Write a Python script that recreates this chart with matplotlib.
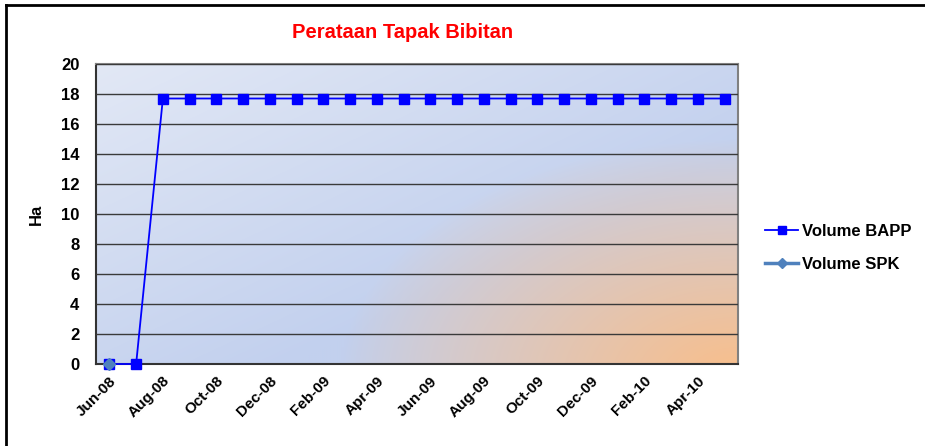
import numpy as np
import matplotlib.pyplot as plt
from matplotlib.lines import Line2D

plt.rcParams['font.family'] = ['Liberation Sans', 'DejaVu Sans']

months = ['Jun-08', 'Jul-08', 'Aug-08', 'Sep-08', 'Oct-08', 'Nov-08', 'Dec-08', 'Jan-09',
          'Feb-09', 'Mar-09', 'Apr-09', 'May-09', 'Jun-09', 'Jul-09', 'Aug-09', 'Sep-09',
          'Oct-09', 'Nov-09', 'Dec-09', 'Jan-10', 'Feb-10', 'Mar-10', 'Apr-10', 'May-10']
volume_bapp = [0, 0] + [17.7] * 22
volume_spk = [0] + [np.nan] * 23

fig = plt.figure(figsize=(9.25, 4.46), dpi=100)
ax = fig.add_axes([96 / 925, 82 / 446, 642 / 925, 300 / 446])

# gradient background: light blue with an orange glow at bottom right
nx, ny = 300, 150
gx, gy = np.meshgrid(np.linspace(0, 1, nx), np.linspace(1, 0, ny))
c1 = np.array([226, 232, 245]) / 255
c2 = np.array([194, 208, 238]) / 255
t = np.clip((gx + (1 - gy)) / 1.3, 0, 1)[..., None]
base = c1 * (1 - t) + c2 * t
orange = np.array([249, 190, 138]) / 255
d = np.sqrt(((gx - 1.0) / 0.62) ** 2 + ((gy + 0.05) / 0.8) ** 2)
w = np.clip(1 - d, 0, 1)[..., None] ** 0.85
img = base * (1 - w) + orange * w
ax.imshow(img, extent=(-0.5, 23.5, 0, 20), aspect='auto', zorder=0, interpolation='bilinear')

x = np.arange(len(months))
ax.plot(x, volume_bapp, color='#0000ff', lw=1.3, marker='s', ms=6.5, zorder=3,
        clip_on=False, label='Volume BAPP')
ax.plot(x, volume_spk, color='#4f81bd', lw=2.5, marker='D', ms=6.5, zorder=4,
        clip_on=False, label='Volume SPK')

ax.set_xlim(-0.5, 23.5)
ax.set_ylim(0, 20)
ax.set_yticks(range(0, 21, 2))
ax.set_xticks(x[::2])
ax.set_xticklabels(months[::2], rotation=45, ha='right', rotation_mode='anchor',
                   fontsize=11, fontweight='bold')
for lab in ax.get_yticklabels():
    lab.set_fontweight('bold')
    lab.set_fontsize(12)
ax.tick_params(axis='y', length=0, pad=12)
ax.tick_params(axis='x', length=0, pad=7)
ax.grid(axis='y', color='#3a3a3a', lw=1)
ax.set_axisbelow(False)
for s in ['top', 'right']:
    ax.spines[s].set_color('#808080')
    ax.spines[s].set_linewidth(1.5)
for s in ['left', 'bottom']:
    ax.spines[s].set_color('#333333')
    ax.spines[s].set_linewidth(1.5)

ax.set_ylabel('Ha', fontsize=12, fontweight='bold', labelpad=12)
fig.text(403 / 925, 1 - 32 / 446, 'Perataan Tapak Bibitan', color='red', fontsize=14.5,
         fontweight='bold', ha='center', va='center')

fig.legend(loc='center left', bbox_to_anchor=(765 / 925, 1 - 248 / 446), frameon=False,
           prop={'weight': 'bold', 'size': 12}, handlelength=2.0, labelspacing=1.1,
           handletextpad=0.25, markerscale=0.8, borderpad=0, borderaxespad=0)

fig.add_artist(Line2D([6 / 925, 1], [1 - 5 / 446, 1 - 5 / 446], color='black', lw=2))
fig.add_artist(Line2D([6 / 925, 6 / 925], [0, 1 - 5 / 446], color='black', lw=2))

fig.savefig('out.png', dpi=100)
